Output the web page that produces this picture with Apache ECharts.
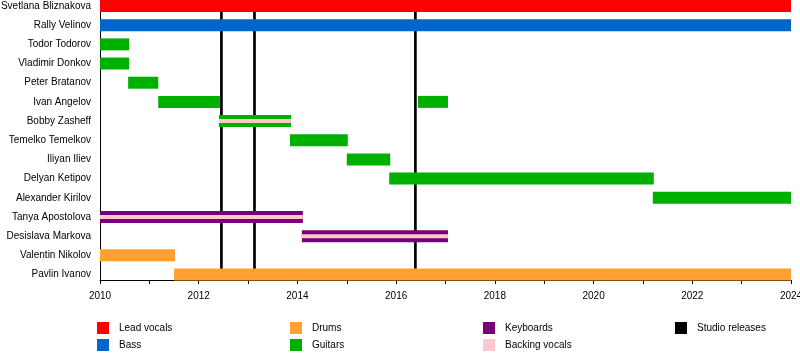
<!DOCTYPE html>
<html>
<head>
<meta charset="utf-8">
<script src="https://cdn.jsdelivr.net/npm/echarts@6/dist/echarts.min.js"></script>
<style>html,body{margin:0;padding:0;background:#fff}#c{width:800px;height:360px}</style>
</head>
<body>
<div id="c"></div>
<script>
const members = ['Svetlana Bliznakova','Rally Velinov','Todor Todorov','Vladimir Donkov','Peter Bratanov','Ivan Angelov','Bobby Zasheff','Temelko Temelkov','Iliyan Iliev','Delyan Ketipov','Alexander Kirilov','Tanya Apostolova','Desislava Markova','Valentin Nikolov','Pavlin Ivanov'];
// [memberIndex, start, end]
const leadVocals = [[0, 2010, 2024]];
const bass = [[1, 2010, 2024]];
const drums = [[13, 2010, 2011.52], [14, 2011.5, 2024]];
const guitars = [[2, 2010, 2010.59], [3, 2010, 2010.59], [4, 2010.57, 2011.18], [5, 2011.18, 2012.43], [5, 2016.44, 2017.05], [6, 2012.41, 2013.87], [7, 2013.85, 2015.02], [8, 2015.0, 2015.88], [9, 2015.86, 2021.22], [10, 2021.2, 2024]];
const keyboards = [[11, 2010, 2014.11], [12, 2014.09, 2017.05]];
const backingVocals = [[6, 2012.41, 2013.87], [11, 2010, 2014.11], [12, 2014.09, 2017.05]];
const studioReleases = [2012.46, 2013.13, 2016.39];
const yearMin = 2010, yearMax = 2024;

const FONT = "'Liberation Sans', Arial, sans-serif";
const colors = {
  'Lead vocals': '#FF0000', 'Bass': '#0066CC', 'Drums': '#FFA030',
  'Guitars': '#00B000', 'Keyboards': '#770077', 'Backing vocals': '#FFC8CC',
  'Studio releases': '#000000'
};

function barSeries(name, data, frac, z) {
  return {
    name, type: 'custom', xAxisIndex: 0, yAxisIndex: 0, z: z,
    itemStyle: { color: colors[name] },
    encode: { x: [1, 2], y: 0 },
    data: data,
    renderItem: function (params, api) {
      const row = api.value(0);
      const p1 = api.coord([api.value(1), row]);
      const p2 = api.coord([api.value(2), row]);
      const band = api.size([0, 1])[1];
      const h = band * frac;
      return {
        type: 'rect',
        shape: { x: p1[0], y: p1[1] - h / 2, width: p2[0] - p1[0], height: h },
        style: { fill: colors[name] }
      };
    }
  };
}

const chart = echarts.init(document.getElementById('c'), null, { renderer: 'canvas' });
const legendBase = {
  orient: 'vertical', top: 322, itemWidth: 12, itemHeight: 12, itemGap: 5, padding: 0,
  icon: 'rect', selectedMode: false,
  textStyle: { fontFamily: FONT, fontSize: 10, color: '#000', padding: [0, 0, 0, 5] }
};
chart.setOption({
  animation: false,
  backgroundColor: '#fff',
  textStyle: { fontFamily: FONT },
  grid: [
    { left: 100, right: 9, top: -3.6, height: 287.7, outerBoundsMode: 'none', containLabel: false },
    { left: 100, right: 9, top: 0, bottom: 80, outerBoundsMode: 'none', containLabel: false }
  ],
  legend: [
    Object.assign({}, legendBase, { left: 97, data: ['Lead vocals', 'Bass'] }),
    Object.assign({}, legendBase, { left: 290, data: ['Drums', 'Guitars'] }),
    Object.assign({}, legendBase, { left: 483, data: ['Keyboards', 'Backing vocals'] }),
    Object.assign({}, legendBase, { left: 675, data: ['Studio releases'] })
  ],
  xAxis: [
    { type: 'value', gridIndex: 0, min: yearMin, max: yearMax, show: false },
    {
      type: 'value', gridIndex: 1, min: yearMin, max: yearMax, interval: 1,
      axisLine: { show: true, lineStyle: { color: '#000', width: 1 } },
      axisTick: { show: true, length: 4, lineStyle: { color: '#000' } },
      splitLine: { show: false },
      axisLabel: {
        color: '#000', fontSize: 10, fontFamily: FONT, margin: 11,
        showMinLabel: true, showMaxLabel: true,
        formatter: v => (v % 2 === 0 ? String(v) : '')
      }
    }
  ],
  yAxis: [
    {
      type: 'category', gridIndex: 0, inverse: true, data: members,
      axisLine: { show: false }, axisTick: { show: false }, splitLine: { show: false },
      axisLabel: { color: '#000', fontSize: 10, fontFamily: FONT, margin: 9 }
    },
    {
      type: 'value', gridIndex: 1, min: 0, max: 1,
      axisLine: { show: true, lineStyle: { color: '#000', width: 1 } },
      axisTick: { show: false }, axisLabel: { show: false }, splitLine: { show: false }
    }
  ],
  series: [
    {
      name: 'Studio releases', type: 'custom', xAxisIndex: 1, yAxisIndex: 1, z: 1,
      itemStyle: { color: colors['Studio releases'] },
      encode: { x: 0 },
      data: studioReleases.map(v => [v]),
      renderItem: function (params, api) {
        const a = api.coord([api.value(0), 0]);
        const b = api.coord([api.value(0), 1]);
        return {
          type: 'line',
          shape: { x1: a[0], y1: a[1], x2: b[0], y2: b[1] },
          style: { stroke: '#000', lineWidth: 2.7 }
        };
      }
    },
    barSeries('Lead vocals', leadVocals, 0.625, 3),
    barSeries('Bass', bass, 0.625, 3),
    barSeries('Drums', drums, 0.625, 3),
    barSeries('Guitars', guitars, 0.625, 3),
    barSeries('Keyboards', keyboards, 0.625, 3),
    barSeries('Backing vocals', backingVocals, 0.21, 4)
  ]
});
</script>
</body>
</html>
